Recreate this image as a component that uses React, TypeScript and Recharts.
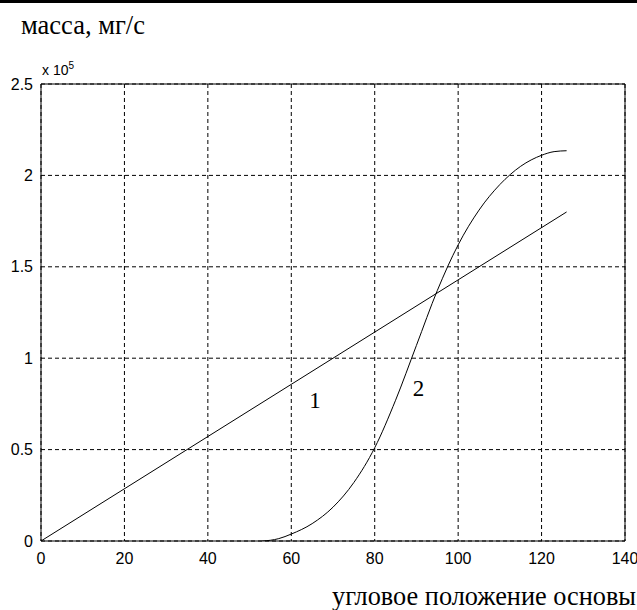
import React from 'react';
import { LineChart, Line, XAxis, YAxis, CartesianGrid, ReferenceLine, ReferenceDot } from 'recharts';

const xTicks = [0, 20, 40, 60, 80, 100, 120, 140];
const yTicks = [0, 50000, 100000, 150000, 200000, 250000];

const line1X = [0, 126];
const line1Y = [0, 180000];

const curve2X = [53, 55, 57, 60, 65, 70, 75, 80, 85, 90, 95, 100, 105, 110, 115, 120, 123, 126];
const curve2Y = [0, 400, 1300, 3800, 9500, 18500, 32000, 51000, 77000, 107000, 137000, 162000, 181000, 195000, 205000, 211000, 213000, 213500];

const curveLabels = ['1', '2'];
const labelX = [65.7, 90.5];
const labelY = [77000, 84000];

const line1 = line1X.map((x, i) => ({ x, y: line1Y[i] }));
const curve2 = curve2X.map((x, i) => ({ x, y: curve2Y[i] }));

const tickFont = { fontFamily: '"Liberation Sans", Arial, sans-serif', fontSize: 16, fill: '#000' };
const serif = '"Liberation Serif", "Times New Roman", serif';

export default function App() {
  return (
    <div style={{ position: 'absolute', left: 0, top: 0, width: 637, height: 610, background: '#fff', overflow: 'hidden' }}>
      <div style={{ position: 'absolute', left: 0, top: 0, width: 637, height: 3, background: '#000' }} />
      <div style={{ position: 'absolute', left: 21, top: 10, fontFamily: serif, fontSize: 26.5, color: '#000', whiteSpace: 'nowrap' }}>
        масса, мг/с
      </div>
      <div style={{ position: 'absolute', left: 42, top: 62, fontFamily: '"Liberation Sans", Arial, sans-serif', fontSize: 14, color: '#000', whiteSpace: 'nowrap' }}>
        x 10<span style={{ fontSize: 10, position: 'relative', top: -6 }}>5</span>
      </div>
      <div style={{ position: 'absolute', left: 332, top: 582, fontFamily: serif, fontSize: 26.3, color: '#000', whiteSpace: 'nowrap' }}>
        угловое положение основы
      </div>
      <LineChart width={637} height={610} margin={{ top: 84, right: 12, bottom: 39, left: 0 }}>
        <CartesianGrid stroke="#000" strokeDasharray="4 3" horizontalValues={yTicks} verticalValues={xTicks} />
        <XAxis
          dataKey="x"
          type="number"
          domain={[0, 140]}
          ticks={xTicks}
          allowDataOverflow
          height={30}
          tickLine={false}
          tickMargin={6}
          axisLine={{ stroke: '#000' }}
          tick={tickFont}
        />
        <YAxis
          dataKey="y"
          type="number"
          domain={[0, 250000]}
          ticks={yTicks}
          allowDataOverflow
          width={41}
          tickLine={false}
          tickMargin={2}
          axisLine={{ stroke: '#000' }}
          tick={tickFont}
          tickFormatter={(v: number) => String(v / 100000)}
        />
        <ReferenceLine y={250000} stroke="#000" strokeWidth={1} />
        <ReferenceLine x={140} stroke="#000" strokeWidth={1} />
        <Line data={line1} dataKey="y" type="linear" stroke="#000" strokeWidth={1} dot={false} isAnimationActive={false} />
        <Line data={curve2} dataKey="y" type="monotone" stroke="#000" strokeWidth={1} dot={false} isAnimationActive={false} />
        {curveLabels.map((t, i) => (
          <ReferenceDot
            key={t}
            x={labelX[i]}
            y={labelY[i]}
            r={0}
            fill="none"
            stroke="none"
            label={{ value: t, position: 'center', fontFamily: serif, fontSize: 23, fill: '#000' }}
          />
        ))}
      </LineChart>
    </div>
  );
}
